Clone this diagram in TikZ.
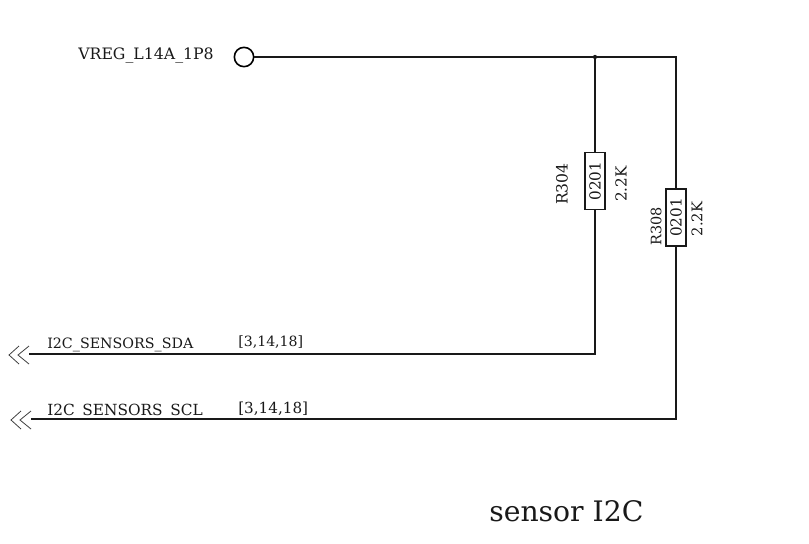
\documentclass[tikz,border=0pt]{standalone}
\usepackage{fontspec}
\setmainfont{DejaVu Serif}
\newcommand{\pkgtext}{\raisebox{-0.8pt}{0201}\hspace{1.6pt}}
\begin{document}
\begin{tikzpicture}[x=0.75pt,y=-0.75pt,
  wire/.style={line width=1.3pt,black!90},
  res/.style={draw,line width=1.2pt,black!90,minimum width=43pt,minimum height=15pt,inner sep=0pt,rotate=90,fill=white,font=\fontsize{11.4}{12}\selectfont},
  lbl/.style={inner sep=0pt,text=black!90},
  vlbl/.style={inner sep=0pt,rotate=90,text=black!90},
  chev/.style={line width=0.6pt,black!75}]
\useasboundingbox (0,0) rectangle (809,543);
\node[draw,circle,line width=1.2pt,minimum size=14.5pt,inner sep=0pt] (port) at (244,57) {};
\node[lbl,anchor=east,font=\fontsize{11.8}{12}\selectfont] (vreg) at (214,56) {VREG\_L14A\_1P8};
\coordinate (junc) at (595,57);
\coordinate (corner) at (676,57);
\node[res] (r304) at (595,181) {\pkgtext};
\node[res] (r308) at (676,217.5) {\pkgtext};
\node[vlbl,font=\fontsize{11.7}{12}\selectfont] (n304) at (562,184) {R304};
\node[vlbl,font=\fontsize{11.4}{12}\selectfont] (v304) at (621,184) {2.2K};
\node[vlbl,font=\fontsize{10.8}{12}\selectfont] (n308) at (656,226) {R308};
\node[vlbl,font=\fontsize{11}{12}\selectfont] (v308) at (697,219) {2.2K};
\coordinate (sdac) at (595,354);
\coordinate (sclc) at (676,419);
\coordinate (sdae) at (29,354);
\coordinate (scle) at (31,419);
\draw[wire] (port) -- (corner) -- (r308.east);
\draw[wire] (r308.west) -- (sclc) -- (scle);
\draw[wire] (junc) -- (r304.east);
\draw[wire] (r304.west) -- (sdac) -- (sdae);
\fill[black!90] (junc) circle (1.6pt);
\draw[chev] (19,346) -- (9,355) -- (19,364);
\draw[chev] (29,346) -- (18,355) -- (29,364);
\draw[chev] (21,411) -- (11,420) -- (21,429);
\draw[chev] (31,411) -- (20,420) -- (31,429);
\node[lbl,anchor=west,font=\fontsize{10.7}{12}\selectfont] (sda) at (47,344.5) {I2C\_SENSORS\_SDA};
\node[lbl,anchor=west,font=\fontsize{11.5}{12}\selectfont] (scl) at (47,411.5) {I2C\_SENSORS\_SCL};
\node[lbl,anchor=west,font=\fontsize{10.6}{12}\selectfont] (sdar) at (238,342) {[3,14,18]};
\node[lbl,anchor=west,font=\fontsize{11.4}{12}\selectfont] (sclr) at (238,409) {[3,14,18]};
\node[inner sep=0pt,anchor=west,text=black!90,font=\fontsize{21.2}{26}\selectfont] (title) at (489,511) {sensor I2C};
\end{tikzpicture}
\end{document}
